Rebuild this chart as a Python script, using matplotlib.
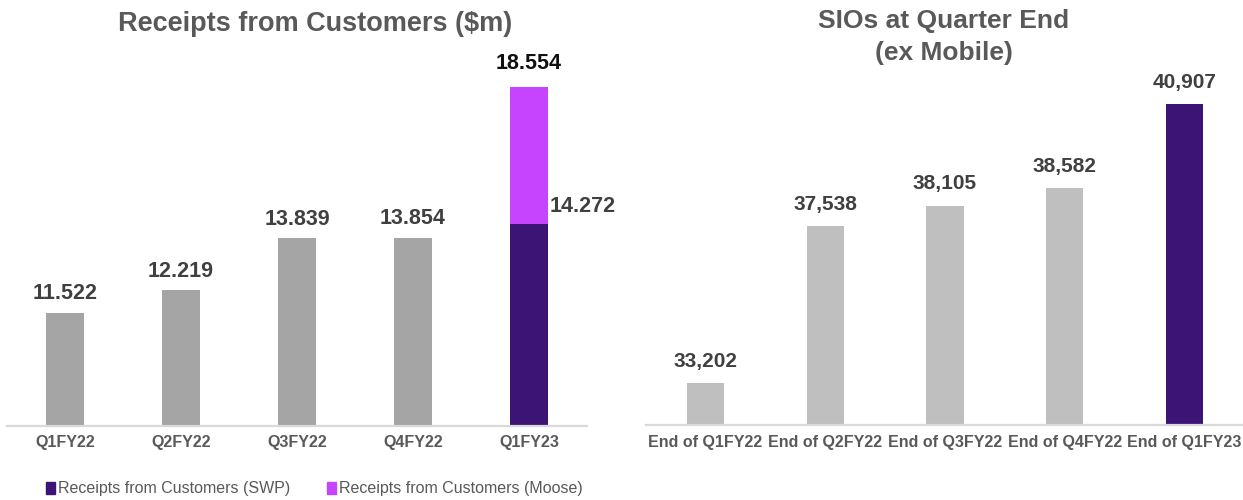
import matplotlib
matplotlib.use("Agg")
import matplotlib.pyplot as plt
from matplotlib.patches import Patch

# ---- data ----
left_categories = ["Q1FY22", "Q2FY22", "Q3FY22", "Q4FY22", "Q1FY23"]
receipts_swp = [11.522, 12.219, 13.839, 13.854, 14.272]
receipts_moose = [0, 0, 0, 0, 4.282]
receipts_total_labels = ["11.522", "12.219", "13.839", "13.854", "18.554"]
swp_label_q1fy23 = "14.272"

right_categories = ["End of Q1FY22", "End of Q2FY22", "End of Q3FY22",
                    "End of Q4FY22", "End of Q1FY23"]
sios = [33202, 37538, 38105, 38582, 40907]

# ---- style ----
FONT = "Liberation Sans"
plt.rcParams["font.family"] = [FONT, "DejaVu Sans"]
TITLE_C = "#595959"
LABEL_C = "#404040"
GRAY_L = "#A5A5A5"
GRAY_R = "#BFBFBF"
PURPLE = "#3C1475"
PINK = "#C744FF"
AXIS_C = "#D9D9D9"

W, H = 1243, 500
fig = plt.figure(figsize=(W / 100, H / 100), dpi=100)

def style_axes(ax):
    for s in ["top", "left", "right"]:
        ax.spines[s].set_visible(False)
    ax.spines["bottom"].set_color(AXIS_C)
    ax.spines["bottom"].set_linewidth(1.6)
    ax.set_yticks([])
    ax.tick_params(axis="x", length=0, pad=7)
    for t in ax.get_xticklabels():
        t.set_fontweight("bold")
        t.set_color(TITLE_C)
        t.set_fontsize(11.5)

# ---- left chart ----
axL = fig.add_axes([7 / W, 74.5 / H, 580 / W, 365.5 / H])
xL = range(len(left_categories))
colorsL = [GRAY_L] * 4 + [PURPLE]
axL.bar(xL, receipts_swp, width=0.32, color=colorsL, bottom=0)
axL.bar(xL, receipts_moose, width=0.32, color=PINK, bottom=receipts_swp)
axL.set_xlim(-0.5, 4.5)
axL.set_ylim(8.01, 19.38)
axL.set_xticks(list(xL))
axL.set_xticklabels(left_categories)
style_axes(axL)

for i, lab in enumerate(receipts_total_labels):
    top = receipts_swp[i] + receipts_moose[i]
    col = "#111111" if i == 4 else LABEL_C
    off = 9 if i == 4 else 6
    axL.annotate(lab, xy=(i, top), xytext=(0, off), textcoords="offset points",
                 ha="center", va="bottom", fontsize=15.5, fontweight="bold",
                 color=col)
axL.annotate(swp_label_q1fy23, xy=(4 + 0.16, receipts_swp[4]), xytext=(1.5, 13),
             textcoords="offset points", ha="left", va="center",
             fontsize=15.5, fontweight="bold", color=LABEL_C,
             annotation_clip=False)

fig.text(315 / W, 1 - 24 / H, "Receipts from Customers ($m)", ha="center",
         va="center", fontsize=19.5, fontweight="bold", color=TITLE_C)

handles = [Patch(color=PURPLE), Patch(color=PINK)]
fig.legend(handles, ["Receipts from Customers (SWP)",
                     "Receipts from Customers (Moose)"],
           loc="center", bbox_to_anchor=(314 / W, 1 - 489 / H), ncol=2,
           frameon=False, fontsize=11.5, labelcolor=TITLE_C,
           handlelength=0.6, handleheight=0.7, handletextpad=0.15,
           columnspacing=2.3, borderpad=0, borderaxespad=0)

# ---- right chart ----
axR = fig.add_axes([645.6 / W, 75 / H, 598.8 / W, 365 / H])
xR = range(len(right_categories))
colorsR = [GRAY_R] * 4 + [PURPLE]
axR.bar(xR, sios, width=0.31, color=colorsR)
axR.set_xlim(-0.5, 4.5)
axR.set_ylim(32052, 42121)
axR.set_xticks(list(xR))
axR.set_xticklabels(right_categories)
style_axes(axR)

for i, v in enumerate(sios):
    axR.annotate(f"{v:,}", xy=(i, v), xytext=(0, 9), textcoords="offset points",
                 ha="center", va="bottom", fontsize=15, fontweight="bold",
                 color=LABEL_C)

fig.text(944 / W, 1 - 37 / H, "SIOs at Quarter End\n(ex Mobile)", ha="center",
         va="center", fontsize=19, fontweight="bold", color=TITLE_C,
         linespacing=1.4)

fig.savefig("out.png", dpi=100)
